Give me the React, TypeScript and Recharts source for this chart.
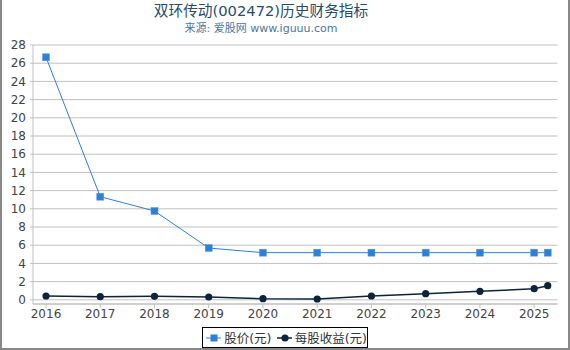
import React from "react";
import { LineChart, Line, XAxis, YAxis, CartesianGrid } from "recharts";

const years = [2016, 2017, 2018, 2019, 2020, 2021, 2022, 2023, 2024, 2025, 2025.25];
const priceValues = [26.65, 11.33, 9.76, 5.69, 5.18, 5.18, 5.18, 5.18, 5.18, 5.18, 5.18];
const epsValues = [0.42, 0.34, 0.38, 0.31, 0.12, 0.09, 0.42, 0.67, 0.93, 1.22, 1.55];
const xTicks = [2016, 2017, 2018, 2019, 2020, 2021, 2022, 2023, 2024, 2025];
const yTicks = [0, 2, 4, 6, 8, 10, 12, 14, 16, 18, 20, 22, 24, 26, 28];

const priceName = "股价(元)";
const epsName = "每股收益(元)";
const titleText = "双环传动(002472)历史财务指标";
const subtitleText = "来源: 爱股网 www.iguuu.com";

const data = years.map((x, i) => ({ x, price: priceValues[i], eps: epsValues[i] }));

const FONT = '"DejaVu Sans", "Noto Sans CJK SC", sans-serif';
const PRICE_COLOR = "#2f7ed8";
const EPS_COLOR = "#0d233a";

const SquareDot = (props: any) => {
  const { cx, cy } = props;
  if (cx == null || cy == null) return null;
  return <rect x={cx - 3.5} y={cy - 3.5} width={7} height={7} fill={PRICE_COLOR} stroke="#5a9be3" strokeWidth={0.5} />;
};

const CircleDot = (props: any) => {
  const { cx, cy } = props;
  if (cx == null || cy == null) return null;
  return <circle cx={cx} cy={cy} r={3.6} fill={EPS_COLOR} />;
};

const LegendBox = () => (
  <div
    style={{
      position: "absolute",
      left: 202,
      top: 327,
      width: 166,
      height: 21,
      boxSizing: "border-box",
      border: "1px solid #000",
      fontFamily: FONT,
      fontSize: 12.5,
      color: "#333",
      display: "flex",
      alignItems: "center",
      whiteSpace: "nowrap",
    }}
  >
    <svg width={16} height={12} style={{ marginLeft: 3 }}>
      <line x1={0} y1={6} x2={16} y2={6} stroke={PRICE_COLOR} strokeWidth={1} />
      <rect x={4.5} y={2.5} width={7} height={7} fill={PRICE_COLOR} />
    </svg>
    <span style={{ marginLeft: 3 }}>{priceName}</span>
    <svg width={16} height={12} style={{ marginLeft: 5 }}>
      <line x1={0} y1={6} x2={16} y2={6} stroke={EPS_COLOR} strokeWidth={1.5} />
      <circle cx={8} cy={6} r={3.6} fill={EPS_COLOR} />
    </svg>
    <span style={{ marginLeft: 3 }}>{epsName}</span>
  </div>
);

export default function App() {
  return (
    <div
      style={{
        position: "absolute",
        left: 0,
        top: 0,
        width: 570,
        height: 350,
        background: "#fff",
        overflow: "hidden",
      }}
    >
      <div
        style={{
          position: "absolute",
          left: 0,
          top: 0,
          width: 570,
          height: 350,
          boxSizing: "border-box",
          borderLeft: "2px solid #888",
          borderRight: "2px solid #888",
          borderBottom: "2px solid #888",
          pointerEvents: "none",
          zIndex: 5,
        }}
      />
      <div
        style={{
          position: "absolute",
          left: 0,
          width: 522,
          top: 1,
          textAlign: "center",
          fontFamily: FONT,
          fontSize: 14.7,
          color: "#274b6d",
          lineHeight: "20px",
          whiteSpace: "nowrap",
        }}
      >
        {titleText}
      </div>
      <div
        style={{
          position: "absolute",
          left: 0,
          width: 522,
          top: 20.5,
          textAlign: "center",
          fontFamily: FONT,
          fontSize: 11,
          color: "#4d759e",
          lineHeight: "16px",
          whiteSpace: "nowrap",
        }}
      >
        {subtitleText}
      </div>
      <LineChart
        width={570}
        height={350}
        data={data}
        margin={{ top: 45, right: 12.5, bottom: 0, left: 0 }}
        style={{ fontFamily: FONT }}
      >
        <CartesianGrid horizontal={true} vertical={false} stroke="#c0c0c0" strokeWidth={1} />
        <XAxis
          dataKey="x"
          type="number"
          domain={[2015.76, 2025.43]}
          ticks={xTicks}
          allowDataOverflow
          axisLine={{ stroke: "#c0c0c0" }}
          tickLine={{ stroke: "#c0c0c0" }}
          tickSize={4}
          tickMargin={1}
          tick={{ fill: "#444", fontSize: 12 }}
          height={46}
          interval={0}
        />
        <YAxis
          type="number"
          domain={[-0.46, 28]}
          ticks={yTicks}
          allowDataOverflow
          width={33}
          axisLine={{ stroke: "#c0c0c0" }}
          tickLine={{ stroke: "#c0c0c0" }}
          tickSize={3}
          tickMargin={4}
          tick={{ fill: "#444", fontSize: 12 }}
          interval={0}
        />
        <Line
          type="linear"
          dataKey="price"
          name={priceName}
          stroke={PRICE_COLOR}
          strokeWidth={1}
          dot={<SquareDot />}
          activeDot={false}
          isAnimationActive={false}
        />
        <Line
          type="linear"
          dataKey="eps"
          name={epsName}
          stroke={EPS_COLOR}
          strokeWidth={1.5}
          dot={<CircleDot />}
          activeDot={false}
          isAnimationActive={false}
        />
      </LineChart>
      <LegendBox />
    </div>
  );
}
